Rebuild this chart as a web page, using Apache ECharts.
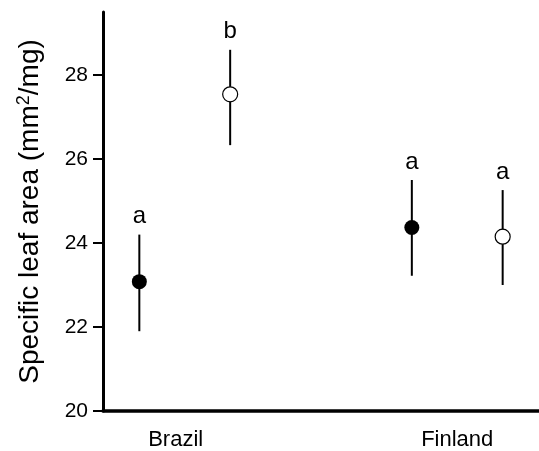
<!DOCTYPE html>
<html>
<head>
<meta charset="utf-8">
<script src="https://cdn.jsdelivr.net/npm/echarts@6/dist/echarts.min.js"></script>
<style>
  html, body { margin: 0; padding: 0; background: #fff; }
  #main { width: 539px; height: 451px; }
</style>
</head>
<body>
<div id="main"></div>
<script>
// country groups and where their labels sit on the x scale
var categories = ['Brazil', 'Finland'];
var categoryPos = [0.8, 3.9];

// one entry per point: Brazil filled, Brazil open, Finland filled, Finland open
var xPos = [0.4, 1.4, 3.4, 4.4];
var filled = [true, false, true, false];
var means = [23.08, 27.54, 24.37, 24.15];
var upper = [24.2, 28.6, 25.5, 25.26];
var lower = [21.9, 26.33, 23.22, 23.0];
var letters = ['a', 'b', 'a', 'a'];

var yTicks = [20, 22, 24, 26, 28];

var font = 'Liberation Sans, Arial, sans-serif';

var myChart = echarts.init(document.getElementById('main'));

var barData = xPos.map(function (x, i) {
  return [x, lower[i], upper[i], letters[i]];
});
var filledPts = [], openPts = [];
xPos.forEach(function (x, i) {
  (filled[i] ? filledPts : openPts).push([x, means[i]]);
});

var option = {
  animation: false,
  grid: { left: 103, right: 0, top: 12, bottom: 40 },
  xAxis: {
    type: 'value',
    min: 0,
    max: 4.8,
    splitLine: { show: false },
    axisLine: { lineStyle: { color: '#000', width: 3.5 } },
    axisTick: { show: false },
    axisLabel: {
      customValues: categoryPos,
      formatter: function (v) {
        return categories[categoryPos.indexOf(v)];
      },
      color: '#000',
      fontFamily: font,
      fontSize: 22,
      margin: 18
    }
  },
  yAxis: {
    type: 'value',
    min: 20,
    max: 29.5,
    name: 'Specific leaf area (mm{sup|2}/mg)',
    nameLocation: 'middle',
    nameGap: 58,
    nameTextStyle: {
      color: '#000',
      fontFamily: font,
      fontSize: 28,
      rich: {
        sup: { fontSize: 18, verticalAlign: 'top', padding: [0, 0, 12, 0], color: '#000', fontFamily: font }
      }
    },
    splitLine: { show: false },
    axisLine: { show: true, lineStyle: { color: '#000', width: 3 } },
    axisTick: {
      show: true,
      customValues: yTicks,
      length: 10,
      lineStyle: { color: '#000', width: 2 }
    },
    axisLabel: {
      customValues: yTicks,
      color: '#000',
      fontFamily: font,
      fontSize: 21,
      margin: 15
    }
  },
  series: [
    {
      // error bars plus the significance letters
      type: 'custom',
      data: barData,
      z: 2,
      renderItem: function (params, api) {
        var lo = api.coord([api.value(0), api.value(1)]);
        var hi = api.coord([api.value(0), api.value(2)]);
        return {
          type: 'group',
          children: [
            {
              type: 'line',
              shape: { x1: lo[0], y1: lo[1], x2: hi[0], y2: hi[1] },
              style: { stroke: '#000', lineWidth: 2 }
            },
            {
              type: 'text',
              x: hi[0],
              y: hi[1] - 6,
              style: {
                text: barData[params.dataIndex][3],
                fill: '#000',
                font: '24px ' + font,
                align: 'center',
                verticalAlign: 'bottom'
              }
            }
          ]
        };
      }
    },
    {
      type: 'scatter',
      data: filledPts,
      symbol: 'circle',
      symbolSize: 15,
      z: 3,
      itemStyle: { color: '#000', opacity: 1 }
    },
    {
      type: 'scatter',
      data: openPts,
      symbol: 'circle',
      symbolSize: 15,
      z: 3,
      itemStyle: { color: '#fff', borderColor: '#000', borderWidth: 1.2, opacity: 1 }
    }
  ]
};

myChart.setOption(option);
</script>
</body>
</html>
